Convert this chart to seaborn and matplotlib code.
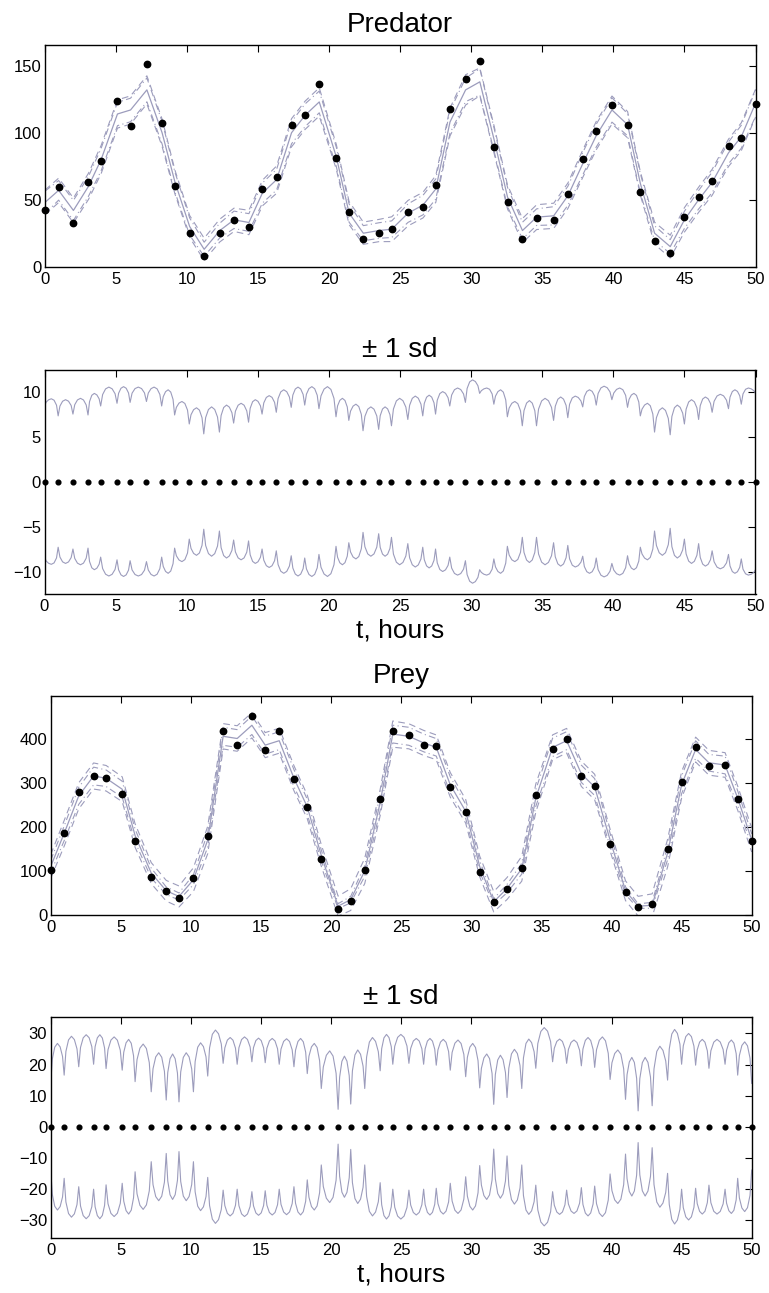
import numpy as np
import pandas as pd
import matplotlib
matplotlib.use("Agg")
import matplotlib.pyplot as plt
import seaborn as sns

# ---------------- data ----------------
t_obs = [0, 0.96, 2.0, 3.06, 3.95, 5.1, 6.02, 7.17, 8.24, 9.15,
         10.18, 11.2, 12.3, 13.3, 14.35, 15.3, 16.3, 17.35, 18.3, 19.3,
         20.5, 21.4, 22.4, 23.5, 24.4, 25.55, 26.6, 27.5, 28.5, 29.6,
         30.6, 31.6, 32.55, 33.6, 34.6, 35.8, 36.8, 37.85, 38.8, 39.9,
         41.0, 41.9, 42.9, 44.0, 45.0, 46.0, 46.95, 48.1, 49.0, 50.0]

pred_obs = [42.4, 59.3, 32.6, 63, 79, 124, 104.7, 151, 107, 60.5,
            25.4, 8, 25.4, 34.9, 29.9, 58.3, 66.8, 105.7, 113, 136.3,
            81.5, 41, 20.4, 25.4, 27.8, 41.1, 44.6, 60.8, 118, 140,
            153.5, 89, 48.3, 20.4, 36.1, 34.9, 54.6, 80.2, 101, 120.4,
            106, 55.8, 19.2, 10.5, 37.4, 52, 64.3, 90, 96.2, 121.6]

pred_mean = [48, 57, 42, 60, 80, 114, 117, 132, 100, 63,
             30, 13, 27, 35, 33, 55, 65, 100, 113, 123,
             82, 40, 25, 27, 28, 40, 46, 58, 108, 132,
             138, 95, 52, 27, 37, 38, 53, 77, 98, 117,
             106, 62, 25, 15, 35, 50, 63, 85, 97, 122]

pred_sd_dip = [8.4, 7.3, 7.5, 7.4, 8.4, 8.7, 8.8, 8.9, 8.4, 7.4,
               6.4, 5.3, 5.5, 6.5, 6.6, 7.5, 7.7, 8.25, 8.5, 8.1,
               7.2, 6.8, 5.65, 5.8, 6.2, 6.9, 7.3, 7.5, 8.4, 8.8,
               9.8, 8.6, 7.2, 6.2, 6.2, 6.8, 7.1, 8.3, 8.5, 9.1,
               8.25, 7.3, 5.5, 5.2, 6.4, 6.9, 7.7, 8.1, 8.6, 9.8]

pred_sd_peak = [9.2, 9.1, 9.25, 9.8, 10.5, 10.55, 10.5, 10.5, 10.2, 8.9,
                8.2, 8.3, 8.5, 8.7, 9.1, 9.55, 10.2, 10.5, 10.55, 10.55,
                9.25, 8.6, 8.3, 8.3, 9.25, 9.5, 9.6, 10.0, 10.4, 11.3,
                10.4, 10.2, 8.9, 9.0, 9.25, 9.4, 9.5, 10.2, 10.6, 10.4,
                9.8, 8.7, 8.2, 8.5, 9.1, 9.4, 9.7, 10.2, 10.4]

prey_obs = [102, 186, 278, 315, 311, 275, 168, 87, 54.5, 39.4,
            83, 179, 418, 385, 451, 373, 417, 307.6, 245, 127,
            13.6, 32.6, 102, 263.6, 418, 407, 385, 382, 289, 234,
            98.5, 28.8, 58, 106, 271, 377, 399, 315, 293, 161,
            51, 18, 25, 150, 301, 381, 337, 341, 264, 168]

prey_mean = [110, 185, 270, 315, 310, 285, 180, 95, 55, 42,
             80, 170, 405, 400, 430, 385, 395, 310, 245, 135,
             20, 35, 100, 255, 410, 405, 390, 380, 295, 235,
             110, 30, 60, 105, 265, 380, 395, 320, 290, 170,
             55, 20, 22, 140, 295, 375, 345, 340, 265, 170]

prey_sd_dip = [13.9, 16.6, 19.3, 20.1, 18.7, 18.2, 14.5, 11.25, 8.6, 8.0,
               11.25, 16.3, 20.4, 20.1, 20.9, 20.6, 20.1, 19.3, 17.1, 12.3,
               5.6, 7.3, 12.3, 18.0, 20.1, 20.4, 20.1, 19.8, 18.2, 16.1,
               12.5, 7.2, 9.4, 12.3, 18.8, 20.9, 20.4, 19.6, 19.1, 15.2,
               8.8, 5.1, 6.75, 15.0, 20.1, 19.8, 18.8, 20.1, 16.6, 13.9]

prey_sd_peak = [26.8, 29.1, 29.6, 29.6, 28.9, 28.1, 26.6, 23.8, 23.4, 23.8,
                27.0, 31.1, 28.7, 28.9, 28.5, 28.4, 28.3, 28.4, 26.8, 24.4,
                22.7, 24.7, 28.7, 29.7, 29.7, 28.4, 28.4, 28.1, 27.9, 26.8,
                23.4, 23.0, 24.9, 28.2, 31.9, 28.2, 27.9, 28.7, 28.9, 24.7,
                22.3, 22.3, 25.9, 31.3, 30.0, 28.1, 28.1, 27.9, 27.3]

x_ticks = [0, 5, 10, 15, 20, 25, 30, 35, 40, 45, 50]

# ---------------- helpers ----------------
LINE_C = "#9c9cbc"
ARCH_S = [0.0, 0.12, 0.3, 0.5, 0.7, 0.88]
ARCH_W = [0.0, 0.6, 0.9, 1.0, 0.9, 0.6]


def sd_curve(times, dips, peaks):
    ts, vs = [], []
    for i in range(len(times) - 1):
        t0, t1 = times[i], times[i + 1]
        d0, d1, p = dips[i], dips[i + 1], peaks[i]
        for s, w in zip(ARCH_S, ARCH_W):
            base = d0 + (d1 - d0) * s
            ts.append(t0 + (t1 - t0) * s)
            vs.append(base + (p - base) * w)
    ts.append(times[-1])
    vs.append(dips[-1])
    return pd.DataFrame({"t": ts, "sd": vs})


def style_axes(ax, ylim, yticks):
    ax.set_xlim(0, 50)
    ax.set_ylim(*ylim)
    ax.set_xticks(x_ticks)
    ax.set_yticks(yticks)
    ax.tick_params(direction="in", top=True, right=True, length=5, width=0.8,
                   labelsize=12, colors="black", pad=3.5)
    ax.tick_params(axis="y", pad=2.5)
    for sp in ax.spines.values():
        sp.set_visible(True)
        sp.set_color("black")
        sp.set_linewidth(1.0)
    ax.grid(False)
    ax.set_xlabel("")
    ax.set_ylabel("")


def state_panel(ax, obs, mean, dips, peaks, ylim, yticks, title):
    band_hi = [m + (peaks[i] if i < len(peaks) else peaks[-1]) for i, m in enumerate(mean)]
    band_lo = [m - (peaks[i] if i < len(peaks) else peaks[-1]) for i, m in enumerate(mean)]
    dd_hi = [m + d for m, d in zip(mean, dips)]
    dd_lo = [m - d for m, d in zip(mean, dips)]
    df = pd.DataFrame({"t": t_obs, "obs": obs, "mean": mean,
                       "hi": band_hi, "lo": band_lo, "dhi": dd_hi, "dlo": dd_lo})
    sns.lineplot(data=df, x="t", y="dhi", ax=ax, color=LINE_C, lw=0.8,
                 linestyle=(0, (6, 3, 1, 3)), estimator=None, sort=False)
    sns.lineplot(data=df, x="t", y="dlo", ax=ax, color=LINE_C, lw=0.8,
                 linestyle=(0, (6, 3, 1, 3)), estimator=None, sort=False)
    sns.lineplot(data=df, x="t", y="hi", ax=ax, color=LINE_C, lw=0.8,
                 linestyle=(0, (6, 4)), estimator=None, sort=False)
    sns.lineplot(data=df, x="t", y="lo", ax=ax, color=LINE_C, lw=0.8,
                 linestyle=(0, (6, 4)), estimator=None, sort=False)
    sns.lineplot(data=df, x="t", y="mean", ax=ax, color=LINE_C, lw=0.9,
                 estimator=None, sort=False)
    ax.plot(df["t"], df["obs"], "o", color="black", ms=4.6, mec="black",
            clip_on=False, zorder=5)
    style_axes(ax, ylim, yticks)
    ax.set_title(title, fontsize=20, pad=9, color="black")


def sd_panel(ax, dips, peaks, ylim, yticks):
    cur = sd_curve(t_obs, dips, peaks)
    cur["neg"] = -cur["sd"]
    sns.lineplot(data=cur, x="t", y="sd", ax=ax, color=LINE_C, lw=0.8,
                 estimator=None, sort=False)
    sns.lineplot(data=cur, x="t", y="neg", ax=ax, color=LINE_C, lw=0.8,
                 estimator=None, sort=False)
    ax.plot(t_obs, [0] * len(t_obs), "o", color="black", ms=3.4,
            clip_on=False, zorder=5)
    style_axes(ax, ylim, yticks)
    ax.set_title("± 1 sd", fontsize=20, pad=9, color="black")
    ax.set_xlabel("t, hours", fontsize=19, labelpad=3, color="black")


# ---------------- figure ----------------
sns.set_theme(style="white")
plt.rcParams["font.family"] = ["Liberation Sans", "DejaVu Sans"]
plt.rcParams["axes.unicode_minus"] = True
plt.rcParams["text.color"] = "black"
plt.rcParams["axes.labelcolor"] = "black"

fig = plt.figure(figsize=(7.69, 12.93), dpi=100)
W, H = 769.0, 1293.0


def axes_px(left, top, right, bottom):
    return fig.add_axes([left / W, 1 - bottom / H, (right - left) / W, (bottom - top) / H])


ax1 = axes_px(45, 45, 755.5, 266.7)
ax2 = axes_px(44.5, 370, 755.5, 594)
ax3 = axes_px(50.7, 695.7, 751.7, 915)
ax4 = axes_px(50.7, 1017, 751.7, 1238)

state_panel(ax1, pred_obs, pred_mean, pred_sd_dip, pred_sd_peak,
            (0, 165.5), [0, 50, 100, 150], "Predator")
sd_panel(ax2, pred_sd_dip, pred_sd_peak, (-12.5, 12.4), [-10, -5, 0, 5, 10])
state_panel(ax3, prey_obs, prey_mean, prey_sd_dip, prey_sd_peak,
            (0, 497), [0, 100, 200, 300, 400], "Prey")
sd_panel(ax4, prey_sd_dip, prey_sd_peak, (-35.8, 35.3), [-30, -20, -10, 0, 10, 20, 30])

fig.savefig("out.png", dpi=100)
